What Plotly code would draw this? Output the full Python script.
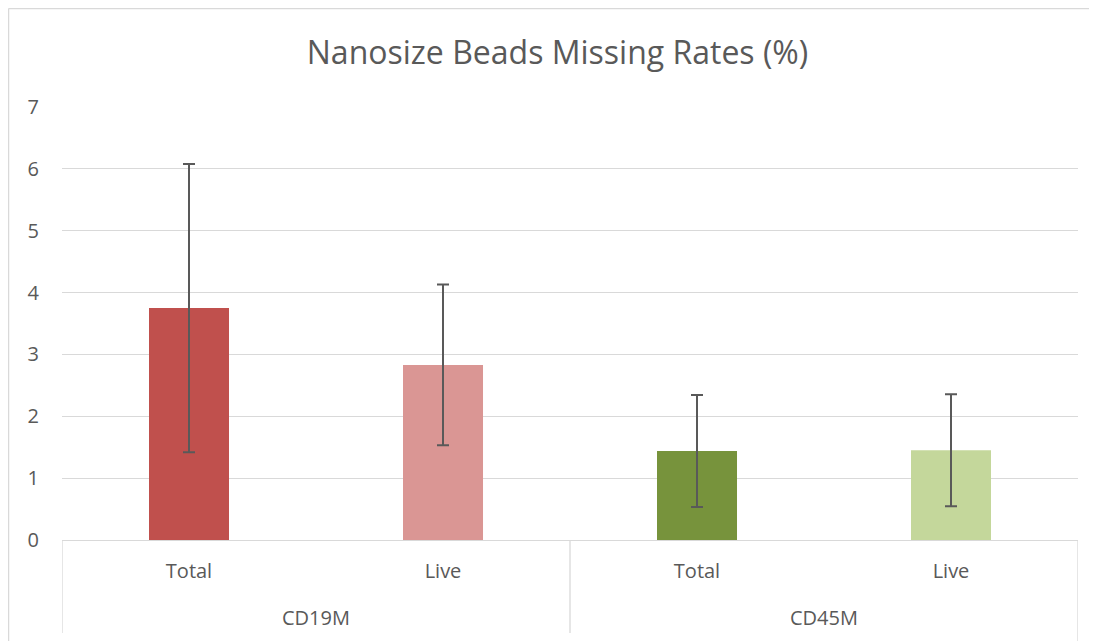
import plotly.graph_objects as go

groups = ["CD19M", "CD19M", "CD45M", "CD45M"]
subcats = ["Total", "Live", "Total", "Live"]
means = [3.75, 2.83, 1.44, 1.45]
errors = [2.33, 1.30, 0.905, 0.905]
colors = ["#C0504D", "#DA9694", "#77933C", "#C4D79B"]
yticks = [0, 1, 2, 3, 4, 5, 6, 7]

FONT = "Open Sans"
GREY = "#595959"
LINE = "#D9D9D9"

idx = list(range(len(subcats)))

fig = go.Figure(go.Bar(
    x=idx,
    y=means,
    marker=dict(color=colors, line=dict(width=0)),
    width=0.315,
    error_y=dict(type="data", array=errors, visible=True,
                 color="#595959", thickness=2, width=6),
    hovertext=[f"{g} {s}" for g, s in zip(groups, subcats)],
))

# page has an 8px body margin; figure occupies page (8..1097, 8..641)
OFF = 8
W, H = 1097 - OFF, 641 - OFF
L, R, T, B = 62 - OFF, 1097 - 1078, 107 - OFF, 641 - 540
pw, ph = W - L - R, H - T - B

def px(x):
    return (x - OFF - L) / pw

def py(y):
    return (H - B - (y - OFF)) / ph

unique_groups = []
for g in groups:
    if g not in unique_groups:
        unique_groups.append(g)

annotations = []
shapes = []
bounds = [-0.5]
for g in unique_groups:
    members = [i for i, gg in enumerate(groups) if gg == g]
    annotations.append(dict(x=sum(members) / len(members), y=py(617), xref="x", yref="paper",
                            text=g, showarrow=False, xanchor="center", yanchor="middle",
                            font=dict(family=FONT, size=20, color=GREY)))
    bounds.append(max(members) + 0.5)
for k, b in enumerate(bounds):
    shapes.append(dict(type="line", xref="x", yref="paper", x0=b, x1=b, y0=0,
                       y1=py(641 if k == len(bounds) - 1 else 633),
                       line=dict(color=LINE, width=1.3)))

# chart area border (left and top)
shapes.append(dict(type="line", xref="paper", yref="paper", x0=px(8.5), x1=px(8.5), y0=py(8.5), y1=py(641),
                   line=dict(color=LINE, width=1.5)))
shapes.append(dict(type="line", xref="paper", yref="paper", x0=px(8.5), x1=px(1097), y0=py(8.5), y1=py(8.5),
                   line=dict(color=LINE, width=1.5)))

fig.update_layout(
    width=W, height=H,
    margin=dict(l=L, r=R, t=T, b=B),
    paper_bgcolor="white", plot_bgcolor="white",
    showlegend=False,
    title=dict(text="Nanosize Beads Missing Rates (%)", x=(557.5 - OFF) / W, xanchor="center",
               y=1 - (53 - OFF) / H, yanchor="middle",
               font=dict(family=FONT, size=32, color=GREY)),
    font=dict(family=FONT, size=20, color=GREY),
    yaxis=dict(range=[0, 7], tickvals=yticks, showgrid=True, gridcolor=LINE,
               gridwidth=1.3, zeroline=False, showline=False, ticks="", automargin=False,
               ticklabelstandoff=22, tickfont=dict(size=20, color=GREY)),
    xaxis=dict(range=[-0.5, len(subcats) - 0.5], tickvals=idx, ticktext=subcats,
               showline=True, linecolor=LINE, linewidth=1.3, showgrid=False, zeroline=False,
               ticks="", automargin=False, ticklabelstandoff=13,
               tickfont=dict(size=20, color=GREY)),
    annotations=annotations,
    shapes=shapes,
)

fig.write_html("out.html")
